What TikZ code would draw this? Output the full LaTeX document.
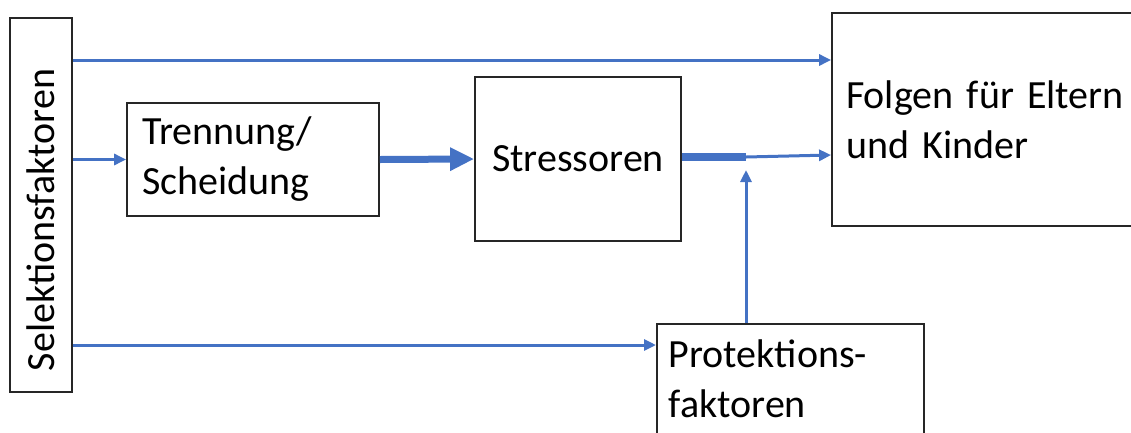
\documentclass[tikz,border=0pt]{standalone}
\usepackage{fontspec}
\setmainfont{Carlito}
\usetikzlibrary{arrows.meta}
\definecolor{officeblue}{HTML}{4472C4}

\begin{document}
\begin{tikzpicture}[x=1pt, y=-1pt,
    font=\fontsize{40}{50}\selectfont,
    box/.style={draw=black!85, line width=1.8pt, inner sep=0pt},
    arr/.style={draw=officeblue, line width=3pt, -{Triangle[length=12pt, width=11pt]}},
    thickarr/.style={draw=officeblue, line width=7pt, -{Triangle[length=24pt, width=22pt]}}]
  \useasboundingbox (0, 0) rectangle (1131, 432);
  \clip (0, 0) rectangle (1131, 432);

  \node[box, minimum width=62, minimum height=374] (sel) at (41, 205) {};
  \node[rotate=90] (seltext) at (41, 220) {Selektionsfaktoren};

  \node[box, minimum width=252, minimum height=113, text width=222, align=left, inner xsep=15]
    (trenn) at (253, 159.5) {Trennung/\\Scheidung};
  \node[box, minimum width=206, minimum height=164] (stress) at (578, 159) {Stressoren};
  \node[box, minimum width=330, minimum height=213, text width=302, align=left, inner xsep=14]
    (folgen) at (997, 119.5) {Folgen für Eltern\\und Kinder};
  \node[box, anchor=north west, text width=243, align=left, inner xsep=12, inner ysep=16, text depth=80]
    (prot) at (656, 323) {Protektions-\\faktoren};

  \coordinate (knot) at (746, 157);
  \coordinate (knottip) at (746, 170);

  \draw[arr] (sel.east |- 0, 60) -- (folgen.west |- 0, 60);
  \draw[arr] (sel.east |- trenn) -- (trenn.west);
  \draw[arr] (sel.east |- 0, 345) -- (prot.west |- 0, 345);
  \draw[thickarr] (trenn.east) -- (stress.west);
  \draw[officeblue, line width=8pt] (stress.east |- knot) -- (knot);
  \draw[arr] (knot) -- (folgen.west |- 0, 155);
  \draw[arr] (knot |- prot.north) -- (knottip);
\end{tikzpicture}
\end{document}
